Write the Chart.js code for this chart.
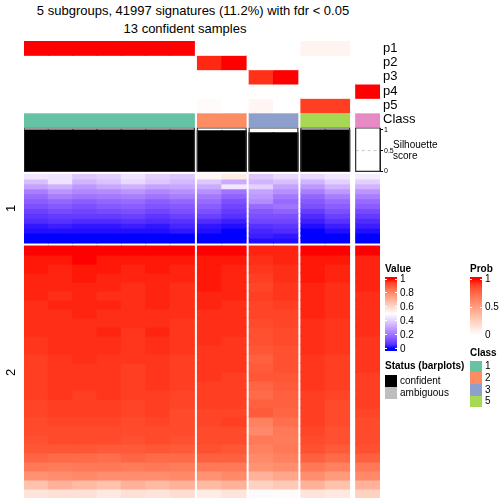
<!DOCTYPE html>
<html><head><meta charset="utf-8">
<script src="https://cdn.jsdelivr.net/npm/chart.js@4.4.1/dist/chart.umd.min.js"></script>
<style>
html,body{margin:0;padding:0;background:#fff}
body{width:504px;height:504px;position:relative;overflow:hidden;font-family:"Liberation Sans",Arial,Helvetica,sans-serif;color:#000}
canvas{position:absolute}
.t{position:absolute;white-space:nowrap;color:#000}
.b{position:absolute}
</style></head><body>
<canvas id="cA" width="416" height="86" style="left:24px;top:41px"></canvas>
<canvas id="cB" width="386" height="60" style="left:24px;top:118px"></canvas>
<canvas id="cC" width="356" height="324" style="left:24px;top:174px"></canvas>
<script>
// ---------------- data ----------------
const titleText = "5 subgroups, 41997 signatures (11.2%) with fdr < 0.05";
const subtitleText = "13 confident samples";
const groupNames = ["1","2","3","5","4"];
const groupSizes = [7,2,2,2,1];
const classColors = ["#66C2A5","#FC8D62","#8DA0CB","#A6D854","#E78AC3"];
const annoRowLabels = ["p1","p2","p3","p4","p5","Class"];
//            group1 (7 samples)              g2        g3        g5          g4
const probP1 = [1,1,1,1,1,1,1,                 0,0,      0,0,      0.06,0.06,  0];
const probP2 = [0,0,0,0,0,0,0,                 0.95,1,   0,0,      0,0,        0];
const probP3 = [0,0,0,0,0,0,0,                 0,0,      0.93,1,   0,0,        0];
const probP4 = [0,0,0,0,0,0,0,                 0,0,      0,0,      0,0,        1];
const probP5 = [0,0,0,0,0,0,0,                 0.02,0,   0.05,0,   0.9,0.9,    0];
const silhouette = [0.99,0.99,0.99,0.99,0.99,0.99,0.99, 0.97,0.97, 0.92,0.92, 0.99,0.99, 0];
const silhouetteTicks = [0,0.5,1];
const sliceLabels = ["1","2"];
const sliceSizes = [9030,32967];
// heatmap values, row slice "1" (top, bands from top to bottom)
const slice1 = [
 [0.45,0.44,0.38,0.40,0.44,0.40,0.38, 0.52,0.55, 0.38,0.42, 0.42,0.45, 0.46],
 [0.36,0.44,0.34,0.37,0.42,0.38,0.35, 0.38,0.32, 0.34,0.36, 0.34,0.40, 0.40],
 [0.30,0.33,0.28,0.31,0.33,0.30,0.31, 0.32,0.45, 0.40,0.30, 0.28,0.34, 0.34],
 [0.22,0.27,0.24,0.25,0.27,0.24,0.26, 0.26,0.20, 0.30,0.26, 0.22,0.28, 0.27],
 [0.18,0.22,0.20,0.21,0.22,0.20,0.22, 0.21,0.16, 0.28,0.21, 0.17,0.22, 0.22],
 [0.15,0.17,0.15,0.17,0.18,0.15,0.17, 0.18,0.12, 0.25,0.18, 0.14,0.18, 0.18],
 [0.12,0.14,0.12,0.14,0.15,0.13,0.14, 0.15,0.10, 0.18,0.20, 0.12,0.15, 0.15],
 [0.09,0.11,0.10,0.11,0.12,0.10,0.12, 0.12,0.08, 0.14,0.16, 0.08,0.12, 0.11],
 [0.07,0.08,0.08,0.08,0.09,0.07,0.09, 0.09,0.06, 0.12,0.12, 0.05,0.09, 0.08],
 [0.05,0.06,0.05,0.05,0.06,0.05,0.06, 0.05,0.03, 0.10,0.10, 0.03,0.06, 0.05],
 [0.02,0.03,0.02,0.02,0.03,0.02,0.04, 0.02,0.01, 0.06,0.07, 0.01,0.03, 0.03],
 [0.01,0.01,0.01,0.01,0.01,0.01,0.02, 0.01,0.00, 0.04,0.05, 0.00,0.01, 0.01],
 [0.00,0.00,0.00,0.00,0.00,0.00,0.00, 0.00,0.00, 0.03,0.02, 0.00,0.00, 0.00],
 [0.00,0.00,0.00,0.00,0.00,0.00,0.00, 0.00,0.00, 0.01,0.01, 0.00,0.00, 0.00]
];
// heatmap values, row slice "2"
const slice2 = [
 [1.00,1.00,1.00,1.00,1.00,1.00,1.00, 1.00,1.00, 0.98,0.98, 1.00,1.00, 1.00],
 [0.99,0.99,1.00,0.99,0.99,0.99,0.99, 0.99,0.99, 0.97,0.98, 0.99,0.99, 0.98],
 [0.99,0.98,0.99,0.99,0.98,0.99,0.98, 0.99,0.98, 0.96,0.97, 0.99,0.98, 0.98],
 [0.98,0.98,0.99,0.98,0.98,0.98,0.98, 0.99,0.98, 0.95,0.97, 0.99,0.98, 0.98],
 [0.98,0.98,0.98,0.98,0.97,0.98,0.97, 0.99,0.98, 0.94,0.96, 0.98,0.97, 0.98],
 [0.98,0.97,0.98,0.97,0.97,0.98,0.97, 0.98,0.98, 0.95,0.96, 0.98,0.97, 0.97],
 [0.97,0.98,0.98,0.98,0.97,0.98,0.97, 0.98,0.97, 0.94,0.95, 0.98,0.97, 0.97],
 [0.97,0.97,0.98,0.97,0.97,0.97,0.97, 0.97,0.97, 0.94,0.94, 0.98,0.97, 0.97],
 [0.97,0.97,0.97,0.97,0.97,0.97,0.96, 0.97,0.97, 0.93,0.94, 0.97,0.96, 0.97],
 [0.97,0.97,0.97,0.98,0.96,0.98,0.96, 0.97,0.97, 0.92,0.93, 0.97,0.96, 0.97],
 [0.96,0.97,0.97,0.97,0.96,0.97,0.96, 0.97,0.96, 0.92,0.93, 0.97,0.96, 0.96],
 [0.96,0.97,0.97,0.97,0.96,0.97,0.96, 0.96,0.96, 0.91,0.92, 0.97,0.96, 0.96],
 [0.95,0.96,0.97,0.96,0.96,0.96,0.95, 0.96,0.96, 0.89,0.92, 0.96,0.95, 0.96],
 [0.95,0.96,0.96,0.96,0.95,0.96,0.95, 0.96,0.96, 0.90,0.92, 0.96,0.95, 0.96],
 [0.95,0.96,0.96,0.96,0.95,0.96,0.95, 0.96,0.95, 0.91,0.91, 0.96,0.95, 0.95],
 [0.95,0.96,0.96,0.96,0.95,0.96,0.95, 0.95,0.95, 0.88,0.90, 0.96,0.95, 0.95],
 [0.95,0.96,0.95,0.96,0.95,0.95,0.94, 0.95,0.95, 0.87,0.89, 0.95,0.94, 0.95],
 [0.94,0.95,0.95,0.95,0.94,0.95,0.94, 0.95,0.95, 0.89,0.89, 0.95,0.93, 0.95],
 [0.94,0.95,0.95,0.95,0.94,0.95,0.93, 0.94,0.94, 0.90,0.88, 0.95,0.93, 0.94],
 [0.93,0.94,0.94,0.94,0.93,0.94,0.93, 0.94,0.95, 0.82,0.86, 0.95,0.93, 0.93],
 [0.93,0.93,0.93,0.93,0.93,0.93,0.93, 0.93,0.93, 0.80,0.84, 0.94,0.92, 0.93],
 [0.92,0.93,0.93,0.93,0.92,0.93,0.92, 0.93,0.93, 0.84,0.83, 0.93,0.92, 0.93],
 [0.91,0.91,0.91,0.90,0.90,0.91,0.90, 0.92,0.91, 0.82,0.84, 0.92,0.90, 0.92],
 [0.88,0.87,0.87,0.86,0.88,0.87,0.87, 0.89,0.89, 0.80,0.82, 0.89,0.87, 0.89],
 [0.84,0.83,0.84,0.84,0.83,0.84,0.83, 0.84,0.84, 0.78,0.79, 0.84,0.82, 0.84],
 [0.78,0.79,0.80,0.79,0.79,0.79,0.80, 0.78,0.80, 0.70,0.73, 0.79,0.76, 0.80],
 [0.66,0.70,0.68,0.66,0.70,0.68,0.70, 0.68,0.70, 0.62,0.64, 0.70,0.66, 0.70],
 [0.57,0.58,0.58,0.56,0.58,0.57,0.59, 0.55,0.57, 0.49,0.51, 0.57,0.56, 0.62]
];
const valueLegendTicks = [1,0.8,0.6,0.4,0.2,0];
const probLegendTicks = [1,0.5,0];
const statusLabels = ["confident","ambiguous"];
const statusColors = ["#000000","#BEBEBE"];
const legendClasses = ["1","2","3","5"];

// ---------------- colour mapping (LAB interpolation) ----------------
function s2l(c){c/=255;return c<=0.04045?c/12.92:Math.pow((c+0.055)/1.055,2.4);}
function l2s(c){c=c<=0.0031308?12.92*c:1.055*Math.pow(c,1/2.4)-0.055;return Math.round(Math.max(0,Math.min(1,c))*255);}
function toLab(rgb){const r=s2l(rgb[0]),g=s2l(rgb[1]),b=s2l(rgb[2]);
 const x=(0.4124*r+0.3576*g+0.1805*b)/0.95047,y=0.2126*r+0.7152*g+0.0722*b,z=(0.0193*r+0.1192*g+0.9505*b)/1.08883;
 const f=t=>t>0.008856?Math.cbrt(t):7.787*t+16/116;
 return [116*f(y)-16,500*(f(x)-f(y)),200*(f(y)-f(z))];}
function fromLab(L){const fy=(L[0]+16)/116,fx=fy+L[1]/500,fz=fy-L[2]/200;
 const fi=t=>t*t*t>0.008856?t*t*t:(t-16/116)/7.787;
 const x=fi(fx)*0.95047,y=fi(fy),z=fi(fz)*1.08883;
 const r=3.2406*x-1.5372*y-0.4986*z,g=-0.9689*x+1.8758*y+0.0415*z,b=0.0557*x-0.2040*y+1.0570*z;
 return "rgb("+l2s(r)+","+l2s(g)+","+l2s(b)+")";}
const BLUE=toLab([0,0,255]),WHITE=toLab([255,255,255]),RED=toLab([255,0,0]);
function mix(a,b,t){return fromLab([a[0]+(b[0]-a[0])*t,a[1]+(b[1]-a[1])*t,a[2]+(b[2]-a[2])*t]);}
function valueColor(v){v=Math.max(0,Math.min(1,v));return v<=0.5?mix(BLUE,WHITE,v/0.5):mix(WHITE,RED,(v-0.5)/0.5);}
function probColor(v){return mix(WHITE,RED,Math.max(0,Math.min(1,v)));}

// ---------------- column layout ----------------
const GAP=0.125, LAST_GAP=0.25;
const colCenters=[], colGroup=[], groupRanges=[];
let pos=0;
groupSizes.forEach((n,g)=>{ if(g>0) pos+=(g===groupSizes.length-1?LAST_GAP:GAP);
  const st=pos; for(let i=0;i<n;i++){colCenters.push(pos+0.5);colGroup.push(g);pos+=1;} groupRanges.push([st,pos]); });
const X_MAX=pos;

const FONT='"Liberation Sans", Arial, Helvetica, sans-serif';
Chart.defaults.font.family=FONT;
Chart.defaults.color='#000';
function baseX(){return {type:'linear',min:0,max:X_MAX,display:false,offset:false,grid:{offset:false},afterBuildTicks:s=>{s.ticks=[{value:0}];}};}
const common={responsive:false,animation:false,events:[],devicePixelRatio:1,
  plugins:{legend:{display:false},tooltip:{enabled:false},title:{display:false}}};
function barDS(data,colors,extra){return Object.assign({type:'bar',data:data,backgroundColor:colors,borderWidth:0,inflateAmount:0.5,grouped:false,barPercentage:1,categoryPercentage:1},extra||{});}

// ---------------- annotation rows ----------------
const probRows=[probP1,probP2,probP3,probP4,probP5];
const annoDS=probRows.map((row,r)=>barDS(colCenters.map(c=>({x:c,y:[r,r+1]})),row.map(probColor)));
annoDS.push(barDS(colCenters.map(c=>({x:c,y:[5.07,6]})),colGroup.map(g=>classColors[g])));
new Chart(document.getElementById('cA'),{type:'bar',data:{datasets:annoDS},options:Object.assign({},common,{
  layout:{padding:0},
  scales:{x:baseX(),
    y:{type:'linear',position:'right',min:0,max:6,reverse:true,grid:{display:false,drawTicks:false},border:{display:false},
       afterBuildTicks:s=>{s.ticks=annoRowLabels.map((l,i)=>({value:i+0.5}));},
       ticks:{autoSkip:false,padding:3,font:{size:13},color:'#000',callback:(v,i)=>annoRowLabels[i]},
       afterFit:s=>{s.width=60;s.paddingTop=0;s.paddingBottom=0;}}}})});

// ---------------- silhouette barplot ----------------
const SIL_MAX=1.04;
const boxPts=[];
groupRanges.forEach(([a,b])=>{boxPts.push({x:a,y:0},{x:a,y:SIL_MAX},{x:b,y:SIL_MAX},{x:b,y:0},{x:a,y:0},{x:NaN,y:NaN});});
const g4=groupRanges[groupRanges.length-1];
const silDS=[
  {type:'line',data:boxPts,borderColor:'#333',borderWidth:1.2,pointRadius:0,spanGaps:false,clip:false,order:0,tension:0},
  barDS(colCenters.map((c,i)=>({x:c,y:silhouette[i]})),silhouette.map(()=> '#000000'),{order:1,inflateAmount:0.7}),
  {type:'line',data:[{x:g4[0],y:0.5},{x:g4[1],y:0.5}],borderColor:'#C8C8C8',borderWidth:1,borderDash:[3,3],pointRadius:0,order:2}
];
new Chart(document.getElementById('cB'),{type:'bar',data:{datasets:silDS},options:Object.assign({},common,{
  layout:{padding:{top:10,bottom:6.5,left:0,right:0}},
  scales:{x:baseX(),
    y:{type:'linear',position:'right',min:0,max:SIL_MAX,
       grid:{display:true,drawOnChartArea:false,drawTicks:true,tickLength:3,color:'#000'},
       border:{display:true,color:'#000',width:1},
       afterBuildTicks:s=>{s.ticks=silhouetteTicks.map(v=>({value:v}));},
       ticks:{autoSkip:false,padding:1,font:{size:7},color:'#000',callback:v=>String(v)},
       afterFit:s=>{s.width=30;s.paddingTop=0;s.paddingBottom=0;}}}})});

// ---------------- heatmap ----------------
const SLICE_GAP=392;
const slices=[slice1,slice2];
const heatDS=[];
let yStart=0;
slices.forEach((rows,s)=>{
  const bh=sliceSizes[s]/rows.length;
  rows.forEach((row,j)=>{
    const y0=yStart+j*bh,y1=yStart+(j+1)*bh;
    heatDS.push(barDS(colCenters.map(c=>({x:c,y:[y0,y1]})),row.map(valueColor)));
  });
  yStart+=sliceSizes[s]+SLICE_GAP;
});
const Y_MAX=yStart-SLICE_GAP;
new Chart(document.getElementById('cC'),{type:'bar',data:{datasets:heatDS},options:Object.assign({},common,{
  layout:{padding:0},
  scales:{x:baseX(),y:{type:'linear',min:0,max:Y_MAX,reverse:true,display:false}}})});

// ---------------- texts & legends ----------------
function txt(s,x,y,size,opt){opt=opt||{};const d=document.createElement('div');d.className='t';d.textContent=s;
  d.style.fontSize=size+'px';d.style.lineHeight=size+'px';d.style.height=size+'px';
  if(opt.bold)d.style.fontWeight='bold';
  if(opt.center){d.style.left='0px';d.style.width=(2*x)+'px';d.style.textAlign='center';}else d.style.left=x+'px';
  d.style.top=(y-size/2)+'px';
  if(opt.rot){d.style.left=x+'px';d.style.transform='translate(-50%,0) rotate(-90deg)';d.style.transformOrigin='50% 50%';}
  document.body.appendChild(d);return d;}
function box(x,y,w,h,bg){const d=document.createElement('div');d.className='b';d.style.left=x+'px';d.style.top=y+'px';d.style.width=w+'px';d.style.height=h+'px';d.style.background=bg;document.body.appendChild(d);return d;}

txt(titleText,193,10,13,{center:true});
txt(subtitleText,185,28,13,{center:true});
txt("Silhouette",393,145,10);
txt("score",393,156,10);
// slice labels
const sliceCenters=[208,372];
sliceLabels.forEach((l,i)=>txt(l,10,sliceCenters[i],13,{rot:true}));

// Value legend
txt("Value",385,269,10,{bold:true});
(function(){const top=277,h=74,y1=279,y0=348.5;const stops=[];
 for(let k=0;k<=20;k++){const v=k/20;const y=y0-v*(y0-y1);stops.push(valueColor(v)+' '+((y-top)/h*100).toFixed(1)+'%');}
 stops.reverse();box(385,top,12,h,'linear-gradient(to bottom,'+stops.join(',')+')');
 valueLegendTicks.forEach(v=>{const y=y0-v*(y0-y1);box(385,y-0.5,2,1,'#fff');box(395,y-0.5,2,1,'#fff');txt(String(v),400,y,10);});})();
// Prob legend
txt("Prob",470,269,10,{bold:true});
(function(){const top=277,h=60,y1=279,y0=335;const stops=[];
 for(let k=0;k<=10;k++){const v=k/10;const y=y0-v*(y0-y1);stops.push(probColor(v)+' '+((y-top)/h*100).toFixed(1)+'%');}
 stops.reverse();box(470,top,12,h,'linear-gradient(to bottom,'+stops.join(',')+')');
 probLegendTicks.forEach(v=>{const y=y0-v*(y0-y1);box(470,y-0.5,2,1,'#fff');box(480,y-0.5,2,1,'#fff');txt(String(v),485,y,10);});})();
// Status legend
txt("Status (barplots)",385,366,10,{bold:true});
statusLabels.forEach((l,i)=>{box(385,375+i*12,12,11.5,statusColors[i]);txt(l,400,380.5+i*12,10);});
// Class legend
txt("Class",470,353,10,{bold:true});
legendClasses.forEach((l,i)=>{const g=groupNames.indexOf(l);box(470,360.5+i*11.7,12,11.7,classColors[g]);txt(l,485,366+i*11.8,10);});
</script>
</body></html>
